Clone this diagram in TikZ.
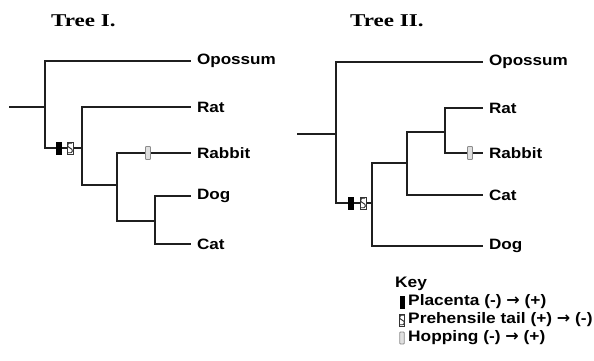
\documentclass[tikz,border=0pt]{standalone}
\usepackage{fontspec}
\setmainfont{Liberation Serif}
\newfontfamily\labfont[FakeStretch=1.14]{Liberation Sans}
\newfontfamily\titfont[FakeStretch=1.28]{Liberation Serif}
\newfontfamily\arrfont{DejaVu Sans}
\newcommand{\keyarr}{{\arrfont\bfseries\fontsize{16}{16}\selectfont →}}
\begin{document}
\begin{tikzpicture}[x=1pt,y=-1pt,
  branch/.style={line width=2.2pt, draw=black!88, line cap=rect},
  leaf/.style={anchor=west, inner sep=1pt, outer sep=6pt, font=\labfont\bfseries\fontsize{15}{17}\selectfont},
  title/.style={anchor=west, inner sep=0pt, font=\titfont\bfseries\fontsize{18}{20}\selectfont},
  keytext/.style={anchor=west, inner sep=0pt, font=\labfont\bfseries\fontsize{15.2}{17}\selectfont},
  plac/.style={draw=black, line width=0.4pt, fill=black, minimum width=5pt, minimum height=12pt, inner sep=0pt},
  tail/.style={draw=black!80, line width=0.5pt, fill=white, minimum width=5.5pt, minimum height=12pt, inner sep=0pt,
    path picture={
      \draw[line width=0.9pt, black!85]
        ([shift={(2.2,-4.8)}]path picture bounding box.center)
        .. controls ([shift={(-3.5,-6)}]path picture bounding box.center) and ([shift={(-3.5,-1)}]path picture bounding box.center)
        .. (path picture bounding box.center)
        .. controls ([shift={(3.5,1)}]path picture bounding box.center) and ([shift={(3.5,6)}]path picture bounding box.center)
        .. ([shift={(-2.2,4.8)}]path picture bounding box.center);
    }},
  hop/.style={draw=black!45, line width=0.8pt, fill=black!12, minimum width=5pt, minimum height=13pt, inner sep=0pt, rounded corners=0.8pt}
]
\useasboundingbox (0,0) rectangle (594,361);

% ---------- Tree I ----------
\node[title] (t1) at (51,21) {Tree I.};
\coordinate (root1) at (10,107);
\coordinate (A1) at (45,107);
\coordinate (B1) at (82,148);
\coordinate (C1) at (117,185);
\coordinate (D1) at (155,221);
\node[leaf] (opo1) at (190,61) {Opossum};
\node[leaf] (rat1) at (190,107) {Rat};
\node[leaf] (rab1) at (190,153) {Rabbit};
\node[leaf] (dog1) at (190,196) {Dog};
\node[leaf] (cat1) at (190,244) {Cat};
\draw[branch] (root1) -- (A1);
\draw[branch] (A1) |- (opo1.west);
\draw[branch] (A1) |- (B1);
\draw[branch] (B1) |- (rat1.west);
\draw[branch] (B1) |- (C1);
\draw[branch] (C1) |- (rab1.west);
\draw[branch] (C1) |- (D1);
\draw[branch] (D1) |- (dog1.west);
\draw[branch] (D1) |- (cat1.west);
\node[plac] (p1) at (59,148) {};
\node[tail] (s1) at (70,148) {};
\node[hop] (h1) at (148,153) {};

% ---------- Tree II ----------
\node[title] (t2) at (350,21) {Tree II.};
\coordinate (root2) at (298,134);
\coordinate (A2) at (336,134);
\coordinate (B2) at (372,203);
\coordinate (C2) at (407,163);
\coordinate (D2) at (445,132);
\node[leaf] (opo2) at (482,62) {Opossum};
\node[leaf] (rat2) at (482,108) {Rat};
\node[leaf] (rab2) at (482,153) {Rabbit};
\node[leaf] (cat2) at (482,195) {Cat};
\node[leaf] (dog2) at (482,246) {Dog};
\draw[branch] (root2) -- (A2);
\draw[branch] (A2) |- (opo2.west);
\draw[branch] (A2) |- (B2);
\draw[branch] (B2) |- (C2);
\draw[branch] (B2) |- (dog2.west);
\draw[branch] (C2) |- (D2);
\draw[branch] (C2) |- (cat2.west);
\draw[branch] (D2) |- (rat2.west);
\draw[branch] (D2) |- (rab2.west);
\node[plac] (p2) at (351,203) {};
\node[tail] (s2) at (363,203) {};
\node[hop] (h2) at (470,153) {};

% ---------- Key ----------
\node[keytext] (key) at (395,284) {Key};
\node[plac, minimum width=3.5pt] (kp) at (402,302) {};
\node[keytext] (kpt) at (408,302) {Placenta (-) \keyarr{} (+)};
\node[tail, minimum width=5pt] (ks) at (402,320) {};
\node[keytext] (kst) at (408,320) {Prehensile tail (+) \keyarr{} (-)};
\node[hop, minimum height=12pt, minimum width=4.5pt] (kh) at (402,338) {};
\node[keytext] (kht) at (408,338) {Hopping (-) \keyarr{} (+)};
\end{tikzpicture}
\end{document}
